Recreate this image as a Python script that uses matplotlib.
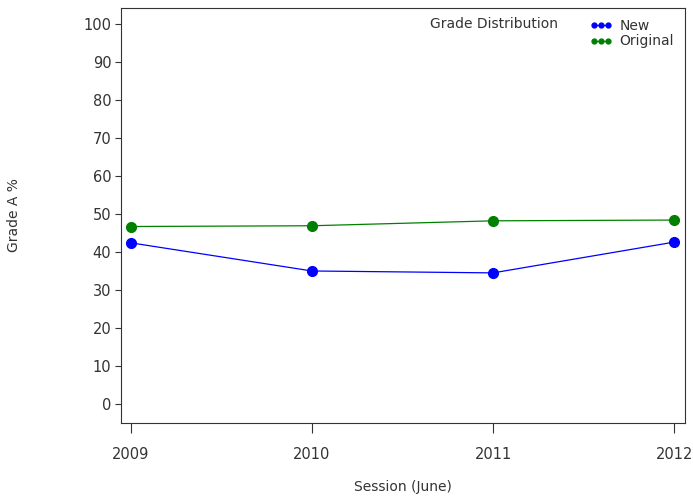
import matplotlib
matplotlib.use("Agg")
import matplotlib.pyplot as plt

years = [2009, 2010, 2011, 2012]
new_vals = [42.4, 35.0, 34.5, 42.6]
orig_vals = [46.7, 46.9, 48.2, 48.4]
yticks = list(range(0, 101, 10))

plt.rcParams['font.family'] = ['DejaVu Sans']
fig = plt.figure(figsize=(6.93, 4.99), dpi=100)
ax = fig.add_axes([0.1746, 0.1523, 0.8139, 0.8317])

ax.plot(years, new_vals, color='#0000FF', lw=0.9, marker='o', ms=7, label='New')
ax.plot(years, orig_vals, color='#008000', lw=0.9, marker='o', ms=7, label='Original')

ax.set_xlim(2008.945, 2012.06)
ax.set_ylim(-5, 104.2)
ax.set_xticks(years)
ax.set_xticklabels([str(y) for y in years])
ax.set_yticks(yticks)
ax.tick_params(axis='x', length=7, width=0.8, pad=10, labelsize=10.5, colors='#333333')
ax.tick_params(axis='y', length=4, width=0.8, pad=3, labelsize=10.5, colors='#333333')
for s in ax.spines.values():
    s.set_color('#333333')
    s.set_linewidth(0.8)

ax.set_xlabel('Session (June)', fontsize=10, color='#333333', labelpad=13)
fig.text(0.02, 0.57, 'Grade A %', rotation=90, ha='center', va='center', fontsize=10, color='#333333')

leg = ax.legend(loc='upper right', frameon=False, numpoints=3, markerscale=0.5,
                handlelength=1.6, handletextpad=0.5, labelspacing=0.1, fontsize=10,
                borderaxespad=0.4)
for t in leg.get_texts():
    t.set_color('#333333')
fig.text(0.621, 0.951, 'Grade Distribution', fontsize=10, color='#333333', va='center')

fig.savefig('out.png', dpi=100)
